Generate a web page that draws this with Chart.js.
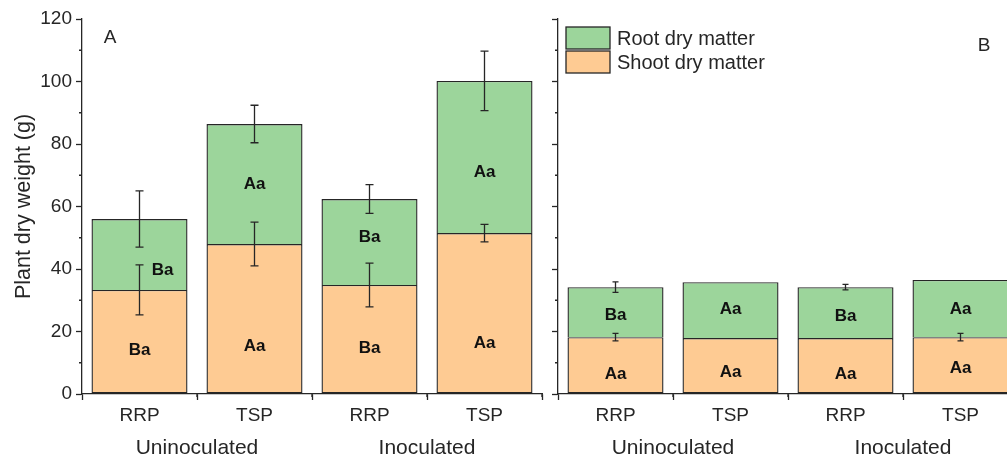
<!DOCTYPE html>
<html>
<head>
<meta charset="utf-8">
<script src="https://cdn.jsdelivr.net/npm/chart.js@4.4.1/dist/chart.umd.min.js"></script>
<style>
html, body { margin: 0; padding: 0; background: #fff; overflow: hidden; width: 1007px; height: 463px; }
#chartA { position: absolute; left: 0; top: 0; }
#chartB { position: absolute; left: 548px; top: 0; }
</style>
</head>
<body>
<canvas id="chartA" width="548" height="463"></canvas>
<canvas id="chartB" width="470" height="463"></canvas>
<script>
// categories
var treatments = ["RRP", "TSP", "RRP", "TSP"];
var groups = ["Uninoculated", "Inoculated"];
var minorTicks = [10, 30, 50, 70, 90, 110];

// panel A (g)
var shootA = [33.3, 48, 34.9, 51.5];
var rootA = [22.7, 38.4, 27.5, 48.7];
var shootErrA = [8, 7, 7, 2.8];
var rootErrA = [9, 6, 4.6, 9.5];
var shootLetA = ["Ba", "Aa", "Ba", "Aa"];
var rootLetA = ["Ba", "Aa", "Ba", "Aa"];
var shootLetYA = [14, 15.4, 14.7, 16.3];
var rootLetYA = [39.7, 67, 50, 71];

// panel B (g)
var shootB = [18.2, 17.9, 17.9, 18.2];
var rootB = [16, 17.9, 16.3, 18.3];
var shootErrB = [1.2, 0, 0, 1.2];
var rootErrB = [1.7, 0, 0.9, 0];
var shootLetB = ["Aa", "Aa", "Aa", "Aa"];
var rootLetB = ["Ba", "Aa", "Ba", "Aa"];
var shootLetYB = [6.4, 7, 6.4, 8.3];
var rootLetYB = [25.3, 27, 25, 27.2];

const ink = "#262626";
const shootColor = "#fecb93";
const rootColor = "#9cd59b";

Chart.defaults.font.family = "'Liberation Sans', Arial, sans-serif";
Chart.defaults.color = ink;

// error bars, letters, minor ticks, panel label, legend
const annot = {
    id: "annot",
    afterDatasetsDraw(chart, args, opts) {
        const ctx = chart.ctx;
        const xs = chart.scales.x;
        const ys = chart.scales.y;
        const shoot = chart.data.datasets[0].data;
        const root = chart.data.datasets[1].data;
        ctx.save();
        ctx.strokeStyle = ink;
        ctx.lineWidth = 1.3;

        // minor ticks
        ctx.beginPath();
        minorTicks.forEach((v) => {
            const py = ys.getPixelForValue(v);
            ctx.moveTo(xs.left - 3, py);
            ctx.lineTo(xs.left, py);
        });
        for (let i = 0; i < treatments.length; i++) {
            const px = i < treatments.length - 1 ?
                (xs.getPixelForTick(i) + xs.getPixelForTick(i + 1)) / 2 : xs.right;
            ctx.moveTo(px, ys.bottom);
            ctx.lineTo(px, ys.bottom + 3);
        }
        ctx.stroke();

        // error bars
        shoot.forEach((v, i) => {
            [[v, opts.shootErr[i]], [v + root[i], opts.rootErr[i]]].forEach(([c, e]) => {
                if (!e) return;
                const px = xs.getPixelForValue(i);
                const t = ys.getPixelForValue(c + e);
                const b = ys.getPixelForValue(c - e);
                ctx.beginPath();
                ctx.moveTo(px, t);
                ctx.lineTo(px, b);
                ctx.moveTo(px - opts.cap, t);
                ctx.lineTo(px + opts.cap, t);
                ctx.moveTo(px - opts.cap, b);
                ctx.lineTo(px + opts.cap, b);
                ctx.stroke();
            });
        });

        // significance letters
        ctx.fillStyle = "#111";
        ctx.font = "bold 17px 'Liberation Sans', Arial, sans-serif";
        ctx.textAlign = "center";
        ctx.textBaseline = "middle";
        opts.shootLet.forEach((s, i) => {
            ctx.fillText(s, xs.getPixelForValue(i), ys.getPixelForValue(opts.shootLetY[i]));
        });
        opts.rootLet.forEach((s, i) => {
            const dx = i === opts.shiftIndex ? opts.shift : 0;
            ctx.fillText(s, xs.getPixelForValue(i) + dx, ys.getPixelForValue(opts.rootLetY[i]));
        });

        // panel letter
        ctx.font = "19px 'Liberation Sans', Arial, sans-serif";
        ctx.fillStyle = ink;
        ctx.fillText(opts.panel, opts.panelX, opts.panelY);

        // legend
        if (opts.legend) {
            const items = [chart.data.datasets[1], chart.data.datasets[0]];
            ctx.textAlign = "left";
            ctx.font = "20px 'Liberation Sans', Arial, sans-serif";
            items.forEach((ds, k) => {
                const top = 27 + k * 24;
                ctx.fillStyle = ds.backgroundColor;
                ctx.fillRect(18, top, 44, 22);
                ctx.strokeStyle = ink;
                ctx.strokeRect(18, top, 44, 22);
                ctx.fillStyle = ink;
                ctx.fillText(ds.label, 69, top + 12);
            });
        }
        ctx.restore();
    },
};

function makeChart(id, shoot, root, yAxisWidth, showY, rightPad, ann) {
    return new Chart(document.getElementById(id), {
        type: "bar",
        data: {
            labels: treatments,
            datasets: [
                {
                    label: "Shoot dry matter",
                    data: shoot,
                    backgroundColor: shootColor,
                    borderColor: ink,
                    borderWidth: 1.4,
                    borderSkipped: false,
                    categoryPercentage: 1,
                    barPercentage: 0.835,
                },
                {
                    label: "Root dry matter",
                    data: root,
                    backgroundColor: rootColor,
                    borderColor: ink,
                    borderWidth: 1.4,
                    borderSkipped: "start",
                    categoryPercentage: 1,
                    barPercentage: 0.835,
                },
            ],
        },
        plugins: [annot],
        options: {
            responsive: false,
            animation: false,
            layout: { padding: { left: 0, right: rightPad, top: 19, bottom: 0 } },
            scales: {
                x: {
                    stacked: true,
                    offset: true,
                    weight: 0,
                    grid: { drawOnChartArea: false, tickLength: 6, tickColor: ink, tickWidth: 1.3 },
                    border: { color: ink, width: 1.3 },
                    ticks: { font: { size: 19 }, padding: 4, color: ink },
                    afterFit(s) { s.height = 32; },
                },
                x2: {
                    type: "category",
                    labels: groups,
                    position: "bottom",
                    offset: true,
                    weight: 1,
                    grid: { display: false, drawTicks: false },
                    border: { display: false },
                    ticks: { font: { size: 21 }, padding: 10, color: ink },
                    afterFit(s) { s.height = 37; },
                },
                y: {
                    stacked: true,
                    min: 0,
                    max: 120,
                    grid: { drawOnChartArea: false, tickLength: 6, tickColor: ink, tickWidth: 1.3 },
                    border: { color: ink, width: 1.3 },
                    ticks: { display: showY, stepSize: 20, font: { size: 19 }, padding: 4, color: ink },
                    title: {
                        display: showY,
                        text: "Plant dry weight (g)",
                        font: { size: 21.5 },
                        color: ink,
                        padding: { top: 11, bottom: 0 },
                    },
                    afterFit(s) { s.width = yAxisWidth; },
                },
            },
            plugins: {
                legend: { display: false },
                tooltip: { enabled: false },
                annot: ann,
            },
        },
    });
}

makeChart("chartA", shootA, rootA, 82, true, 6, {
    shootErr: shootErrA, rootErr: rootErrA, cap: 4,
    shootLet: shootLetA, rootLet: rootLetA,
    shootLetY: shootLetYA, rootLetY: rootLetYA,
    shiftIndex: 0, shift: 23,
    panel: "A", panelX: 110, panelY: 38, legend: false,
});

makeChart("chartB", shootB, rootB, 10, false, 0, {
    shootErr: shootErrB, rootErr: rootErrB, cap: 3,
    shootLet: shootLetB, rootLet: rootLetB,
    shootLetY: shootLetYB, rootLetY: rootLetYB,
    shiftIndex: -1, shift: 0,
    panel: "B", panelX: 436, panelY: 46, legend: true,
});
</script>
</body>
</html>
